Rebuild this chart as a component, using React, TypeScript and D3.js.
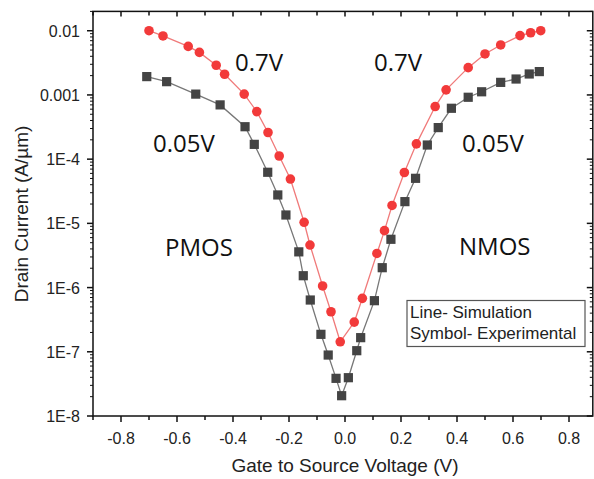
import React from "react";
import * as d3 from "d3";

const vgsHigh = [-0.70, -0.65, -0.56, -0.52, -0.46, -0.43, -0.36, -0.315, -0.275, -0.235, -0.195, -0.146, -0.125, -0.08, -0.05, -0.017, 0.033, 0.062, 0.114, 0.141, 0.168, 0.212, 0.255, 0.322, 0.361, 0.44, 0.5, 0.556, 0.625, 0.663, 0.699];
const idHigh = [0.01, 0.0083, 0.0057, 0.0046, 0.0029, 0.0021, 0.00103, 5.5e-4, 2.6e-4, 1.12e-4, 4.9e-5, 1.04e-5, 4.6e-6, 1.06e-6, 4.2e-7, 1.43e-7, 2.9e-7, 6.8e-7, 3.4e-6, 7.7e-6, 1.9e-5, 6.2e-5, 1.73e-4, 6.6e-4, 1.2e-3, 2.66e-3, 4.35e-3, 6.0e-3, 8.4e-3, 9.3e-3, 0.0100];

const vgsLow = [-0.708, -0.637, -0.533, -0.446, -0.357, -0.324, -0.276, -0.240, -0.211, -0.165, -0.149, -0.124, -0.086, -0.06, -0.032, -0.012, 0.012, 0.042, 0.056, 0.105, 0.133, 0.164, 0.214, 0.252, 0.294, 0.333, 0.38, 0.44, 0.488, 0.556, 0.611, 0.658, 0.694];
const idLow = [1.93e-3, 1.61e-3, 1.03e-3, 7.0e-4, 3.2e-4, 1.7e-4, 6.25e-5, 2.77e-5, 1.35e-5, 3.6e-6, 1.53e-6, 6.4e-7, 1.87e-7, 8.9e-8, 3.86e-8, 2.07e-8, 3.95e-8, 1.04e-7, 1.66e-7, 6.25e-7, 2.04e-6, 5.65e-6, 2.18e-5, 5.03e-5, 1.66e-4, 3.1e-4, 6.2e-4, 9.2e-4, 1.12e-3, 1.57e-3, 1.77e-3, 2.12e-3, 2.31e-3];

const xTicks = [-0.8, -0.6, -0.4, -0.2, 0.0, 0.2, 0.4, 0.6, 0.8];
const yTicks = [1e-8, 1e-7, 1e-6, 1e-5, 1e-4, 1e-3, 1e-2];
const yTickLabels = ["1E-8", "1E-7", "1E-6", "1E-5", "1E-4", "0.001", "0.01"];

const W = 594, H = 479;
const left = 93, right = 592.8, top = 11.4, bottom = 416;

export default function App() {
  const x = d3.scaleLinear().domain([-0.9, 0.885]).range([left, right]);
  const y = d3.scaleLog().domain([1e-8, 0.02]).range([bottom, top]);

  const line = d3.line<[number, number]>().x(d => x(d[0])).y(d => y(d[1]));
  const hi: [number, number][] = vgsHigh.map((v, i) => [v, idHigh[i]]);
  const lo: [number, number][] = vgsLow.map((v, i) => [v, idLow[i]]);

  const minorX = d3.range(-9, 9).map(k => k / 10);
  const minorY: number[] = [];
  for (let e = -8; e <= -2; e++) {
    for (let m = 2; m <= 9; m++) {
      const v = m * Math.pow(10, e);
      if (v <= 0.02) minorY.push(v);
    }
  }
  const font = "'Liberation Sans', Arial, sans-serif";
  const annFont = "'Open Sans', 'Noto Sans', sans-serif";

  return (
    <svg width={W} height={H} style={{ position: "absolute", left: 0, top: 0, background: "#fff" }}>
      <rect x={0} y={0} width={W} height={H} fill="#fff" />
      {/* lines */}
      <path d={line(lo) || ""} fill="none" stroke="#777" strokeWidth={1.3} />
      <path d={line(hi) || ""} fill="none" stroke="#f07a7a" strokeWidth={1.3} />
      {/* markers */}
      {lo.map((d, i) => (
        <rect key={"s" + i} x={x(d[0]) - 4.6} y={y(d[1]) - 4.6} width={9.2} height={9.2} fill="#444" />
      ))}
      {hi.map((d, i) => (
        <circle key={"c" + i} cx={x(d[0])} cy={y(d[1])} r={4.8} fill="#f23a3a" />
      ))}
      {/* frame */}
      <rect x={left} y={top} width={right - left} height={bottom - top} fill="none" stroke="#111" strokeWidth={1.5} />
      {/* bottom / top axis ticks */}
      {minorX.map((v, i) => {
        const major = Math.abs(Math.round(v * 10)) % 2 === 0;
        return (
          <g key={"xt" + i}>
            <line x1={x(v)} x2={x(v)} y1={bottom} y2={bottom + (major ? 6 : 4)} stroke="#111" strokeWidth={1.5} />
            <line x1={x(v)} x2={x(v)} y1={top} y2={top + (major ? 5 : 4)} stroke="#111" strokeWidth={1.5} />
          </g>
        );
      })}
      {xTicks.map((v, i) => (
        <text key={"xl" + i} x={x(v)} y={444} textAnchor="middle" fontFamily={font} fontSize={16} fill="#222">
          {v.toFixed(1)}
        </text>
      ))}
      {/* left / right axis ticks */}
      {yTicks.map((v, i) => (
        <g key={"yt" + i}>
          <line x1={left - 6} x2={left} y1={y(v)} y2={y(v)} stroke="#111" strokeWidth={1.5} />
          <line x1={right} x2={right - 6} y1={y(v)} y2={y(v)} stroke="#111" strokeWidth={1.5} />
          <text x={80} y={y(v) + 6} textAnchor="end" fontFamily={font} fontSize={16} fill="#222">
            {yTickLabels[i]}
          </text>
        </g>
      ))}
      {minorY.map((v, i) => (
        <g key={"ym" + i}>
          <line x1={left - 3} x2={left} y1={y(v)} y2={y(v)} stroke="#111" strokeWidth={1} />
          <line x1={right} x2={right - 3} y1={y(v)} y2={y(v)} stroke="#111" strokeWidth={1} />
        </g>
      ))}
      {/* axis titles */}
      <text x={345} y={472} textAnchor="middle" fontFamily={font} fontSize={19} fill="#222">
        Gate to Source Voltage (V)
      </text>
      <text transform={`translate(28, 214) rotate(-90)`} textAnchor="middle" fontFamily={font} fontSize={19} fill="#222">
        Drain Current (A/µm)
      </text>
      {/* annotations */}
      <text x={235} y={71} fontFamily={annFont} fontSize={24} fill="#111">0.7V</text>
      <text x={374} y={71} fontFamily={annFont} fontSize={24} fill="#111">0.7V</text>
      <text x={153} y={152} fontFamily={annFont} fontSize={24} fill="#111">0.05V</text>
      <text x={462} y={152} fontFamily={annFont} fontSize={24} fill="#111">0.05V</text>
      <text x={165} y={256} fontFamily={annFont} fontSize={24} fill="#111">PMOS</text>
      <text x={459} y={255} fontFamily={annFont} fontSize={24} fill="#111">NMOS</text>
      {/* legend box */}
      <rect x={407} y={300.5} width={178} height={46} fill="#fff" stroke="#555" strokeWidth={1.2} />
      <text x={410} y={318} fontFamily={font} fontSize={17} fill="#222">Line- Simulation</text>
      <text x={410} y={338.5} fontFamily={font} fontSize={17} fill="#222">Symbol- Experimental</text>
    </svg>
  );
}
